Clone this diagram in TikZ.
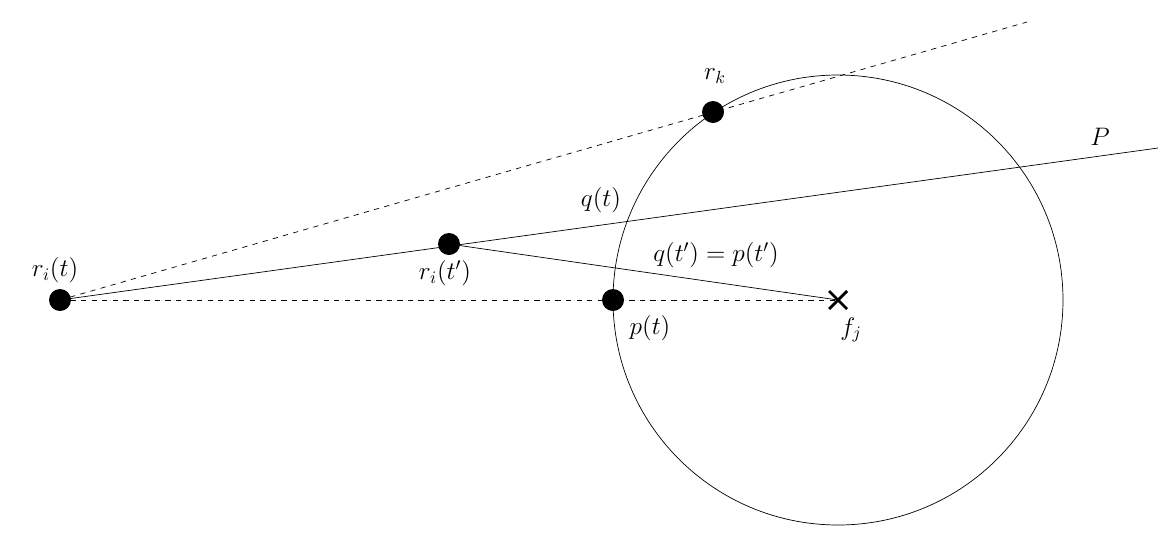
\documentclass[tikz,border=0pt]{standalone}
\usetikzlibrary{calc}
\begin{document}
\begin{tikzpicture}[x=0.02cm,y=-0.02cm,
  dot/.style={circle,fill=black,inner sep=0pt,minimum size=0.44cm},
  lbl/.style={font=\Large}]
\useasboundingbox (0,0) rectangle (1173,542);
\coordinate (f) at (838,300);
\draw (f) circle[radius=225];
\node[dot] (ri) at (60,300) {};
\node[dot] (rip) at (449,244) {};
\node[dot] (pt) at (613,300) {};
\node[dot] (rk) at (713,112) {};
\coordinate (Pend) at (1158,148);
\coordinate (Dend) at (1027,22);
\draw[dashed,dash pattern=on 3pt off 3pt] (ri.center) -- (Dend);
\draw[dashed,dash pattern=on 3pt off 3pt] (ri.center) -- (f);
\draw (ri.center) -- (Pend);
\draw (rip.center) -- (f);
\draw[line width=1.6pt] ($(f)+(-9,-9)$) -- ($(f)+(9,9)$) ($(f)+(-9,9)$) -- ($(f)+(9,-9)$);
\node[lbl] at (55,270) {$r_i(t)$};
\node[lbl] at (715,76) {$r_k$};
\node[lbl] at (1100,137) {$P$};
\node[lbl] at (601,200) {$q(t)$};
\node[lbl] at (445,273) {$r_i(t')$};
\node[lbl] at (716,255) {$q(t')=p(t')$};
\node[lbl] at (650,328) {$p(t)$};
\node[lbl] at (851,330) {$f_j$};
\end{tikzpicture}
\end{document}
